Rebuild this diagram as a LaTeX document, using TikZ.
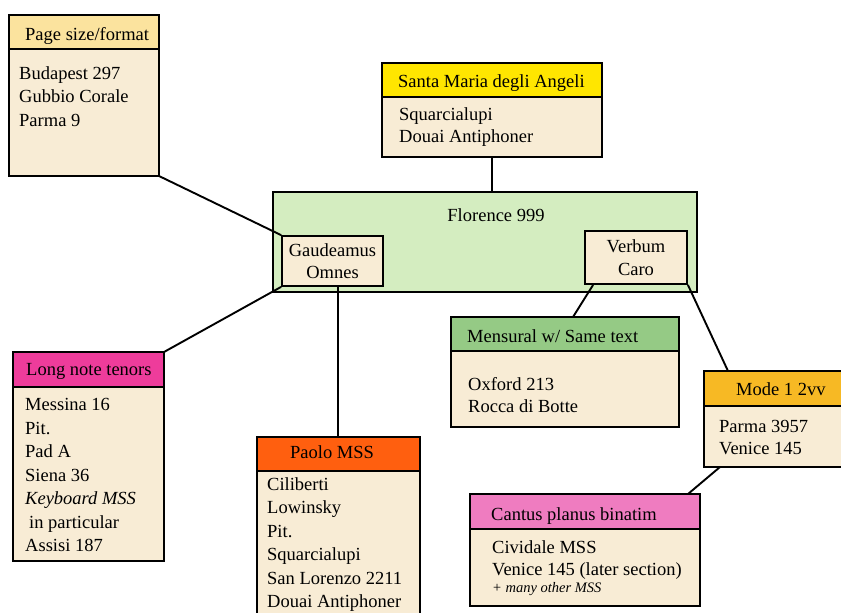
\documentclass[tikz,border=0pt]{standalone}
\usepackage{fontspec}
\setmainfont{Liberation Serif}
\usetikzlibrary{calc}
\definecolor{cream}{HTML}{F8ECD5}
\definecolor{psy}{HTML}{FBE39E}
\definecolor{smy}{HTML}{FFE600}
\definecolor{flg}{HTML}{D4EDC0}
\definecolor{lnt}{HTML}{EE3C9B}
\definecolor{pao}{HTML}{FF5F0F}
\definecolor{men}{HTML}{95CA85}
\definecolor{mod}{HTML}{F7B924}
\definecolor{can}{HTML}{EF7CC0}
\newcommand{\mainfs}{\fontsize{18.5}{23.5}\selectfont}
\begin{document}
\begin{tikzpicture}[x=1pt,y=-1pt,
  box/.style={draw=black,line width=1.8pt,inner sep=0pt,outer sep=0pt,anchor=north west},
  bodybox/.style={box,fill=cream},
  band/.style={box},
  ttltext/.style={inner sep=0pt,anchor=base west,font=\mainfs},
  bodytext/.style={inner sep=0pt,anchor=north west,align=left,font=\mainfs},
  midbox/.style={draw=black,line width=1.8pt,fill=cream,inner sep=0pt,align=center,font=\fontsize{18.5}{22.5}\selectfont},
  link/.style={line width=1.9pt}]
\useasboundingbox (0,0) rectangle (841,613);
\fill[white] (0,0) rectangle (841,613);

% Florence 999
\node[box,fill=flg,minimum width=424pt,minimum height=100pt] (flo) at (273,192) {};
\node[inner sep=0pt,anchor=base,font=\mainfs] (flot) at (496,221) {Florence 999};
\node[midbox,minimum width=101pt,minimum height=50pt] (gau) at (332.5,261) {Gaudeamus\\Omnes};
\node[midbox,minimum width=102pt,minimum height=53pt] (ver) at (636,257.5) {Verbum\\Caro};

% Page size/format
\node[bodybox,minimum width=150pt,minimum height=161pt] (psb) at (9,15) {};
\node[band,fill=psy,minimum width=150pt,minimum height=34pt] (pst) at (9,15) {};
\node[ttltext] (pstx) at (25,40) {Page size/format};
\node[bodytext] (psx) at (19,66.3) {Budapest 297\\Gubbio Corale\\Parma 9};

% Santa Maria degli Angeli
\node[bodybox,minimum width=220pt,minimum height=94pt] (smb) at (382,63) {};
\node[band,fill=smy,minimum width=220pt,minimum height=34pt] (smt) at (382,63) {};
\node[ttltext] (smtx) at (398,87) {Santa Maria degli Angeli};
\node[bodytext] (smx) at (399,107.3) {Squarcialupi\\[-1.5pt]Douai Antiphoner};

% Long note tenors
\node[bodybox,minimum width=151pt,minimum height=209pt] (lnb) at (13,352) {};
\node[band,fill=lnt,minimum width=151pt,minimum height=35pt] (lntt) at (13,352) {};
\node[ttltext] (lnttx) at (26,375) {Long note tenors};
\node[bodytext] (lnx) at (25,398.3) {Messina 16\\Pit.\\Pad A\\Siena 36\\\textit{Keyboard MSS}\\\hspace{4pt}in particular\\Assisi 187};

% Paolo MSS
\node[bodybox,minimum width=163pt,minimum height=190pt] (pab) at (257,437) {};
\node[band,fill=pao,minimum width=163pt,minimum height=34pt] (pat) at (257,437) {};
\node[ttltext] (patx) at (290,458) {Paolo MSS};
\node[bodytext] (pax) at (267,477.3) {Ciliberti\\Lowinsky\\Pit.\\Squarcialupi\\San Lorenzo 2211\\Douai Antiphoner};

% Mensural w/ Same text
\node[bodybox,minimum width=228pt,minimum height=110pt] (meb) at (451,317) {};
\node[band,fill=men,minimum width=228pt,minimum height=34pt] (met) at (451,317) {};
\node[ttltext] (metx) at (467,342) {Mensural w/ Same text};
\node[bodytext] (mex) at (468,377.3) {Oxford 213\\[-1.5pt]Rocca di Botte};

% Mode 1 2vv
\node[bodybox,minimum width=150pt,minimum height=96pt] (mob) at (704,371) {};
\node[band,fill=mod,minimum width=150pt,minimum height=35pt] (mot) at (704,371) {};
\node[ttltext] (motx) at (736,395) {Mode 1 2vv};
\node[bodytext] (mox) at (719,420.3) {Parma 3957\\[-1.5pt]Venice 145};

% Cantus planus binatim
\node[bodybox,minimum width=230pt,minimum height=112pt] (cab) at (470,494) {};
\node[band,fill=can,minimum width=230pt,minimum height=35pt] (cat) at (470,494) {};
\node[ttltext] (catx) at (491,520) {Cantus planus binatim};
\node[bodytext] (cax) at (492,540.3) {Cividale MSS\\[-1.5pt]Venice 145 (later section)\\[-6pt]{\fontsize{14.5}{16}\selectfont\itshape + many other MSS}};

% connectors
\coordinate (gaup) at ($(pat.north)+(-0.5,0)$);
\draw[link] (psb.south east) -- (gau.north west);
\draw[link] (gau.south west) -- (lntt.north east);
\draw[link] (gaup |- gau.south) -- (gaup);
\draw[link] (smb.south) -- (smb.south |- flo.north);
\draw[link] ($(ver.south west)+(9,0)$) -- ($(met.north)+(8,0)$);
\draw[link] (ver.south east) -- ($(mot.north west)+(24,0)$);
\draw[link] ($(cat.north west)+(218,0)$) -- ($(mob.south west)+(16,0)$);
\end{tikzpicture}
\end{document}
